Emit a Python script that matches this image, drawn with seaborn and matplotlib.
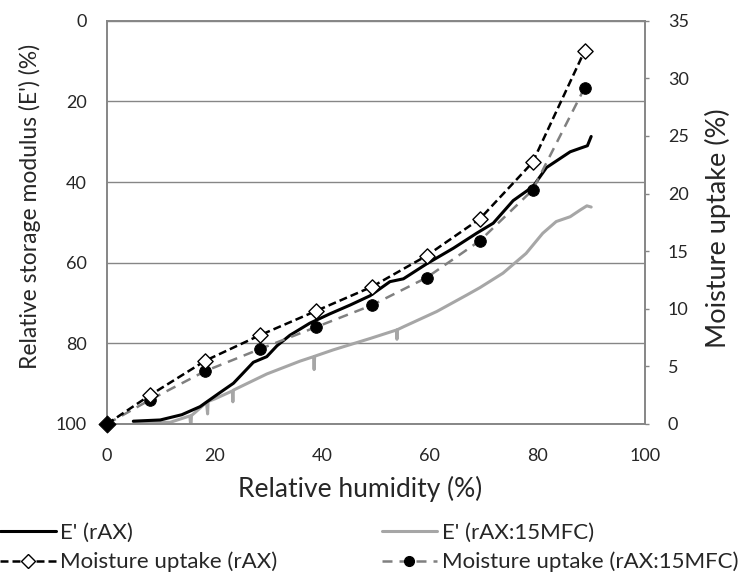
import seaborn as sns
import matplotlib.pyplot as plt
import pandas as pd
from matplotlib.lines import Line2D

# Datos
# ------------------------------------------------------------------------------
rh_rax = [4.9, 9.9, 13.9, 17.3, 20.9, 23.5, 25.0, 27.2, 29.7, 31.6, 34.0, 37.7,
          41.4, 45.2, 48.9, 52.6, 55.1, 59.4, 64.4, 68.7, 71.8, 75.5, 79.2,
          81.7, 86.1, 88.0, 89.3, 90.0]
e_rax = [99.3, 99.0, 97.7, 95.7, 92.3, 89.9, 87.8, 84.7, 83.3, 80.6, 78.0, 75.0,
         72.7, 70.5, 68.2, 64.7, 64.0, 60.3, 56.4, 52.7, 50.2, 44.6, 41.1,
         36.4, 32.5, 31.6, 31.0, 28.7]

rh_mfc = [4.9, 11.7, 15.4, 15.6, 15.7, 16.5, 18.5, 18.7, 18.8, 20.0, 23.3,
          23.4, 23.5, 29.7, 35.9, 38.4, 38.5, 38.6, 42.1, 48.9, 53.8, 53.9,
          54.0, 55.1, 61.3, 66.9, 69.3, 73.6, 77.9, 81.0, 83.5, 86.1, 88.0,
          89.2, 90.0]
e_mfc = [99.4, 99.6, 98.0, 101.0, 97.9, 97.0, 94.6, 97.5, 94.4, 93.8, 91.8,
         94.5, 91.6, 87.6, 84.4, 83.3, 86.5, 83.2, 81.6, 78.8, 76.7, 79.0,
         76.6, 75.9, 72.1, 68.0, 66.2, 62.6, 57.7, 52.7, 49.8, 48.6, 46.9,
         45.9, 46.2]

rh_puntos = [0, 8.0, 18.3, 28.4, 38.8, 49.2, 59.4, 69.3, 79.1, 88.8]
humedad_rax = [0, 2.5, 5.5, 7.7, 9.8, 11.9, 14.6, 17.8, 22.7, 32.4]
humedad_mfc = [0, 2.1, 4.6, 6.5, 8.4, 10.3, 12.7, 15.9, 20.3, 29.2]

etiquetas = ["E' (rAX)", "E' (rAX:15MFC)",
             "Moisture uptake (rAX)", "Moisture uptake (rAX:15MFC)"]

df_rax = pd.DataFrame({"rh": rh_rax, "e": e_rax})
df_mfc = pd.DataFrame({"rh": rh_mfc, "e": e_mfc})
df_hum = pd.DataFrame({"rh": rh_puntos, "rax": humedad_rax, "mfc": humedad_mfc})

# Estilo
# ------------------------------------------------------------------------------
sns.set_style("white")
plt.rcParams["font.family"] = ["Lato", "DejaVu Sans"]
gris_eje = "#868686"
dash_negro = [3.2, 1.6]
dash_gris = [4.0, 2.8]

fig = plt.figure(figsize=(7.41, 5.76), dpi=100)
ax = fig.add_axes([0.1444, 0.2639, 0.7260, 0.7001])
ax2 = ax.twinx()

# Modulo de almacenamiento (eje izquierdo, invertido)
sns.lineplot(data=df_mfc, x="rh", y="e", sort=False, estimator=None,
             color="#A6A6A6", linewidth=2.2, ax=ax)
sns.lineplot(data=df_rax, x="rh", y="e", sort=False, estimator=None,
             color="black", linewidth=2.2, ax=ax)

# Absorcion de humedad (eje derecho)
sns.lineplot(data=df_hum, x="rh", y="mfc", sort=False, estimator=None,
             color="#808080", linewidth=1.8, ax=ax2)
ax2.lines[-1].set_dashes(dash_gris)
sns.scatterplot(data=df_hum.iloc[1:], x="rh", y="mfc", color="black",
                s=70, edgecolor="black", zorder=5, ax=ax2)
sns.lineplot(data=df_hum, x="rh", y="rax", sort=False, estimator=None,
             color="black", linewidth=1.8, ax=ax2)
ax2.lines[-1].set_dashes(dash_negro)
sns.scatterplot(data=df_hum.iloc[1:], x="rh", y="rax", marker="D", color="white",
                s=60, edgecolor="black", linewidth=1.0, zorder=6, ax=ax2)
sns.scatterplot(data=df_hum.iloc[:1], x="rh", y="rax", marker="D", color="black",
                s=75, edgecolor="black", zorder=7, clip_on=False, ax=ax2)

# Ejes
ax.set_xlim(0, 100)
ax.set_ylim(100, 0)
ax2.set_ylim(0, 35)
ax.set_xticks(range(0, 101, 20))
ax.set_yticks(range(0, 101, 20))
ax2.set_yticks(range(0, 36, 5))

ax.yaxis.grid(True, color=gris_eje, linewidth=1.0)
ax.set_axisbelow(True)
for a in (ax, ax2):
    for s in a.spines.values():
        s.set_color(gris_eje)
        s.set_linewidth(1.2)

ax.tick_params(axis="y", length=0, labelsize=13, pad=14.4)
ax.tick_params(axis="x", length=0, labelsize=13, pad=17)
ax2.tick_params(axis="y", length=3, width=1.0, color=gris_eje, labelsize=13,
                pad=13.5)

ax.set_xlabel("Relative humidity (%)", fontsize=19, va="center")
ax.set_ylabel("Relative storage modulus (E') (%)", fontsize=16.5, va="center")
ax2.set_ylabel("Moisture uptake (%)", fontsize=19.5, va="center")
ax.xaxis.set_label_coords(0.470, -0.161)
ax.yaxis.set_label_coords(-0.143, 0.540)
ax2.yaxis.set_label_coords(1.136, 0.486)

# Leyenda
handles = [
    Line2D([], [], color="black", linewidth=2.2),
    Line2D([], [], color="black", linewidth=1.8, dashes=dash_negro, marker="D",
           markerfacecolor="white", markeredgecolor="black", markersize=7.5),
    Line2D([], [], color="#A6A6A6", linewidth=2.2),
    Line2D([], [], color="#808080", linewidth=1.8, dashes=dash_gris, marker="o",
           markerfacecolor="black", markeredgecolor="black", markersize=7),
]
fig.legend(handles, [etiquetas[0], etiquetas[2], etiquetas[1], etiquetas[3]],
           ncol=2, loc="upper left", bbox_to_anchor=(0.0, 0.093),
           frameon=False, fontsize=16, handlelength=2.5, handletextpad=0.2,
           columnspacing=4.7, labelspacing=0.42, borderaxespad=0, borderpad=0)

fig.savefig("out.png", dpi=100)
